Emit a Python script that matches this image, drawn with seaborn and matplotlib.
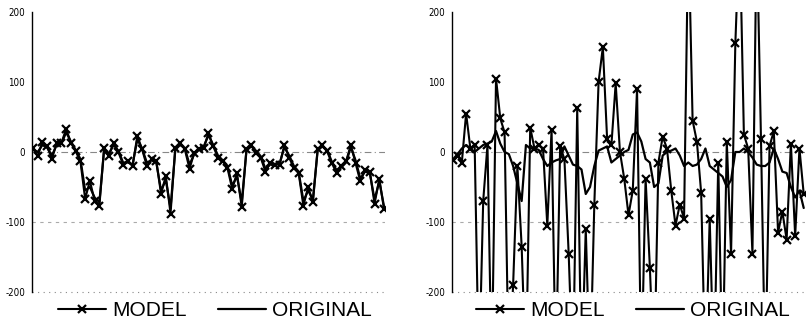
import numpy as np
import pandas as pd
import matplotlib
matplotlib.use("Agg")
import matplotlib.pyplot as plt
import seaborn as sns

# valores (painel esquerdo: modelo quase igual ao original)
left_model = [6, -6, 15, 8, -10, 13, 13, 33, 13, 1,
              -13, -67, -41, -70, -77, 6, -6, 13, 0, -18,
              -13, -20, 23, 4, -20, -10, -13, -60, -34, -88,
              6, 13, 4, -24, -1, 4, 6, 27, 8, -8,
              -13, -23, -53, -30, -79, 4, 10, -1, -8, -28,
              -16, -18, -18, 10, -8, -23, -30, -77, -50, -72,
              4, 10, 1, -16, -30, -20, -13, 10, -16, -42,
              -25, -28, -74, -38, -82]
left_original = [3, 0, 10, 6, -5, 10, 12, 28, 15, 3,
                 -10, -55, -50, -65, -72, 3, -2, 10, 2, -15,
                 -15, -18, 18, 5, -15, -12, -15, -55, -40, -80,
                 3, 10, 6, -18, -3, 3, 8, 24, 10, -5,
                 -12, -20, -48, -35, -72, 2, 8, 2, -6, -24,
                 -18, -17, -16, 7, -5, -20, -28, -70, -55, -68,
                 2, 8, 3, -14, -26, -22, -15, 7, -12, -38,
                 -28, -30, -68, -42, -78]

# painel direito: modelo muito instável (valores fora da escala são cortados)
right_model = [-12, -5, -15, 55, 5, 10, -320, -70, 10, -320,
               105, 48, 28, -320, -190, -20, -135, -320, 35, 5,
               10, 5, -105, 32, -320, 8, -10, -145, -320, 63,
               -320, -110, -320, -75, 100, 150, 18, 10, 98, 0,
               -38, -90, -55, 90, -320, -38, -165, -320, -15, 22,
               5, -55, -105, -75, -95, 320, 45, 15, -58, -320,
               -95, -320, -15, -320, 15, -145, 155, 320, 25, 5,
               -145, 320, 18, -320, 8, 30, -115, -85, -125, 12,
               -120, 5, -60]
right_original = [-10, -3, 5, 10, 5, 0, 5, 10, 12, 15,
                  30, 12, 0, -3, -20, -45, -70, 10, 5, 5,
                  3, -10, -20, -15, -12, -10, 8, -5, -18, -20,
                  -25, -60, -50, -20, 2, 5, 8, -15, -10, -5,
                  0, 3, 25, 28, 15, -10, -15, -50, -45, -5,
                  0, 2, 5, -5, -20, -15, -20, -18, -10, 5,
                  -20, -25, -30, -35, -50, -40, 0, 0, 5, 0,
                  -8, -18, -20, -20, -15, 5, -10, -28, -30, -50,
                  -65, -55, -80]

y_ticks = [-200, -100, 0, 100, 200]

sns.set_style("white")
plt.rcParams['font.family'] = ['Liberation Sans', 'DejaVu Sans']
plt.rcParams['text.color'] = 'black'
plt.rcParams['ytick.color'] = 'black'

fig = plt.figure(figsize=(8.09, 3.31), dpi=100)
ax1 = fig.add_axes([32 / 809, 39 / 331, 353 / 809, 280 / 331])
ax2 = fig.add_axes([452 / 809, 39 / 331, 353 / 809, 280 / 331])


def draw_panel(ax, model, original, pad, leg_x):
    x_m = np.arange(len(model))
    x_o = np.arange(len(original))
    sns.lineplot(x=x_o, y=original, ax=ax, color='black', linewidth=1.6,
                 label='ORIGINAL', zorder=2)
    sns.lineplot(x=x_m, y=model, ax=ax, color='black', linewidth=1.5,
                 marker='x', markersize=6, markeredgewidth=1.6,
                 markeredgecolor='black', label='MODEL', zorder=3)
    ax.set_ylim(-200, 200)
    ax.set_xlim(-pad, len(model) - 1 + pad)
    ax.set_yticks(y_ticks)
    ax.set_yticklabels([str(t) for t in y_ticks], fontsize=7, color='black',
                       family='DejaVu Sans', stretch='condensed')
    ax.set_xticks([])
    for s in ['top', 'right', 'bottom']:
        ax.spines[s].set_visible(False)
    ax.spines['left'].set_color('black')
    ax.spines['left'].set_linewidth(1.0)
    ax.tick_params(axis='y', length=3, width=0.8, direction='out', pad=2)
    ax.axhline(0, color='#888888', linewidth=0.8, linestyle=(0, (6, 3, 1, 3)), zorder=1)
    ax.axhline(-100, color='#aaaaaa', linewidth=0.8, linestyle=(0, (3, 4)), zorder=1)
    ax.axhline(-200, color='#888888', linewidth=0.8, linestyle=(0, (1, 4)),
               zorder=1, clip_on=False)

    handles, labels = ax.get_legend_handles_labels()
    order = [labels.index('MODEL'), labels.index('ORIGINAL')]
    leg = ax.legend([handles[i] for i in order], [labels[i] for i in order],
                    loc='upper center', bbox_to_anchor=(leg_x, 0.005), ncol=2,
                    frameon=False, fontsize=15, handlelength=2.3,
                    handletextpad=0.3, columnspacing=1.5, borderaxespad=0.1)
    for t in leg.get_texts():
        t.set_color('black')


draw_panel(ax1, left_model, left_original, 0.2, 0.518)
draw_panel(ax2, right_model, right_original, 0.3, 0.513)

fig.savefig('out.png', dpi=100)
